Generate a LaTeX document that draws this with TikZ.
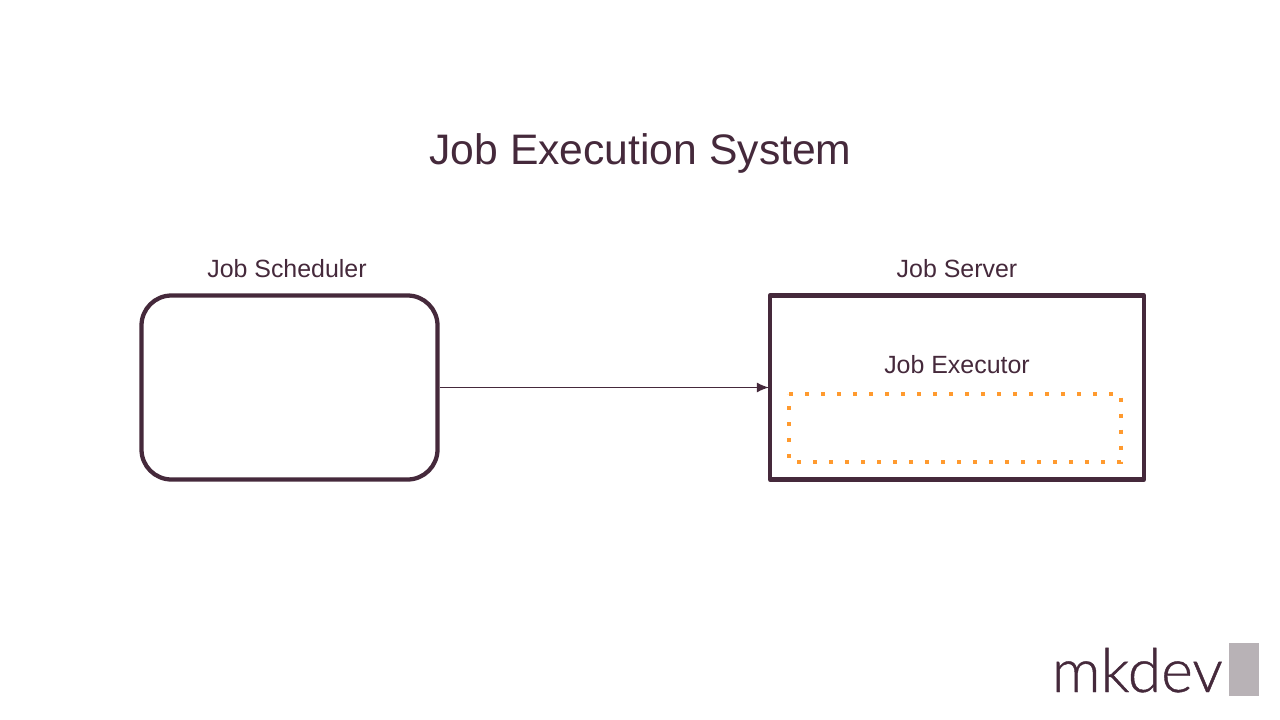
\documentclass[tikz,border=0pt]{standalone}
\usepackage{fontspec}
\setmainfont{Liberation Sans}
\newfontfamily\logofont[FakeBold=0.7]{Lato Light}
\usetikzlibrary{arrows.meta}
\definecolor{ink}{HTML}{45293B}
\definecolor{dots}{HTML}{FF9A2E}
\definecolor{logobar}{HTML}{B8B2B6}
\tikzset{
  x=0.75pt,y=-0.75pt,
  lbl/.style={text=ink,inner sep=0pt,font=\fontsize{18.7pt}{18.7pt}\selectfont,anchor=base},
  ttl/.style={text=ink,inner sep=0pt,font=\fontsize{32pt}{32pt}\selectfont,anchor=base},
  logotxt/.style={text=ink,inner sep=0pt,font=\logofont\fontsize{45.5pt}{45.5pt}\selectfont,anchor=base west},
  boxline/.style={draw=ink,line width=3.2pt,inner sep=0pt,line join=round},
  conn/.style={draw=ink,line width=1pt,shorten >=-0.75pt,-{Latex[length=9pt,width=7.5pt]}}
}
\begin{document}
\begin{tikzpicture}
\useasboundingbox (0,0) rectangle (1280,720);
\node[ttl] (title) at (640.5,165) {Job Execution System};
\node[lbl] (schedlabel) at (287,277) {Job Scheduler};
\node[lbl] (serverlabel) at (957,277) {Job Server};
\node[lbl] (execlabel) at (957,373) {Job Executor};
\node[boxline,rounded corners=22.5pt,minimum width=222pt,minimum height=138pt] (scheduler) at (289.5,387.5) {};
\node[boxline,minimum width=280.5pt,minimum height=138pt] (server) at (957,387.5) {};
\draw[dots,line width=3pt,dash pattern=on 3pt off 9pt] (789,393.5) -- (1121,393.5) -- (1121,461.5) -- (789,461.5) -- cycle;
\draw[conn] (scheduler.east) -- (server.west);
\node[logotxt] (logo) at (1051.5,692) {mkdev};
\node[fill=logobar,inner sep=0pt,minimum width=22pt,minimum height=39.75pt] (bar) at (1244,669.6) {};
\end{tikzpicture}
\end{document}
